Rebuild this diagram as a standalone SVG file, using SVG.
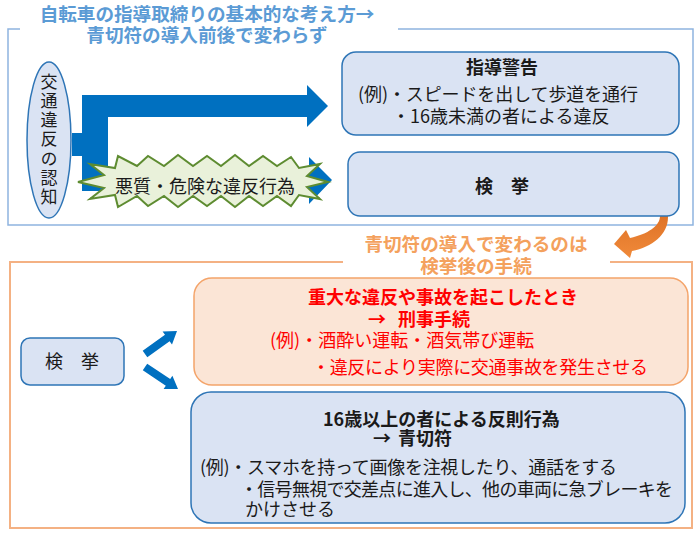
<svg xmlns="http://www.w3.org/2000/svg" width="700" height="535" viewBox="0 0 700 535">
<defs>
<style>
.t{font-family:"Noto Sans CJK JP","Noto Sans",sans-serif;font-size:18px;fill:#1a1a1a}
.b{font-weight:bold}
.blue{fill:#DAE3F3;stroke:#2E75B6;stroke-width:1.5}
.org{fill:#FBE5D6;stroke:#F4A46A;stroke-width:1.5}
.red{fill:#FF0000}
.ttl{font-family:"Noto Sans CJK JP","Noto Sans",sans-serif;font-size:18.6px;font-weight:bold}
</style>
<linearGradient id="og" x1="0" y1="0" x2="0" y2="1">
<stop offset="0" stop-color="#C55A11"/>
<stop offset="0.5" stop-color="#E07428"/>
<stop offset="1" stop-color="#F08A3A"/>
</linearGradient>
</defs>
<rect width="700" height="535" fill="#ffffff"/>

<g id="frame-top" fill="none" stroke="#8FB4E0" stroke-width="1.5">
<polyline points="20,29 8,29 8,225 693,225 693,29 398,29"/>
</g>
<g id="title-top">
<text class="ttl" text-anchor="middle" fill="#5B9BD5"><tspan x="207" y="21">自転車の指導取締りの基本的な考え方→</tspan><tspan x="207" y="42">青切符の導入前後で変わらず</tspan></text>
</g>

<g id="frame-bottom" fill="none" stroke="#F4B183" stroke-width="2">
<polyline points="343,262 10,262 10,528 692,528 692,262 610,262"/>
</g>
<g id="title-bottom">
<text class="ttl" text-anchor="middle" fill="#F4A15D"><tspan x="476" y="251">青切符の導入で変わるのは</tspan><tspan x="476" y="273">検挙後の手続</tspan></text>
</g>

<g id="connectors">
<path d="M72,133 H82 V95 H307 V85 L328,106 L307,127 V117 H108 V169 H309 V157 L332,180 L309,204 V191 H82 V156 H72 Z" fill="#0070C0"/>
<path d="M616,179 C645,180 668,195 668,217 C668,235 652,247 632,251 L630,258 L614,244 L626,230 L630,238 C648,234 660,226 660,216 C660,203 640,193 616,192 Z" fill="url(#og)"/>
<polygon points="142.7,350.8 165.0,334.8 162.6,331.5 177,331 172.0,344.5 169.6,341.2 147.3,357.2" fill="#0070C0"/>
<polygon points="147.2,363.7 170.2,379.1 172.4,375.7 178,389 163.6,389.0 165.8,385.7 142.8,370.3" fill="#0070C0"/>
</g>

<g id="node-ninchi">
<ellipse class="blue" cx="49" cy="140" rx="22" ry="78"/>
<text class="t" x="49" y="140" text-anchor="middle" style="writing-mode:vertical-rl;font-size:17px;letter-spacing:2.2px">交通違反の認知</text>
</g>

<g id="node-akushitsu">
<polygon fill="#E9F1DA" stroke="#5E8C31" stroke-width="2" stroke-linejoin="miter" points="78,182 104,175 90,164 115,168 118,156 137,166 148,156 164,166 178,155 193,166 207,156 221,166 235,155 249,166 263,156 277,166 291,157 299,168 320,164 307,176 328,182 307,187 320,199 299,195 291,206 277,196 263,206 249,196 235,207 221,196 207,206 193,196 178,207 164,196 148,206 137,196 118,207 115,195 90,199 104,188"/>
<text class="t" x="205" y="193" text-anchor="middle">悪質・危険な違反行為</text>
</g>

<g id="node-shidou">
<rect class="blue" x="342" y="52" width="337" height="83" rx="14"/>
<text class="t"><tspan class="b" x="502" y="74" text-anchor="middle">指導警告</tspan><tspan x="358" y="101" textLength="280">(例)・スピードを出して歩道を通行</tspan><tspan x="392" y="123">・16歳未満の者による違反</tspan></text>
</g>

<g id="node-kenkyo-top">
<rect class="blue" x="348" y="152" width="331" height="64" rx="12"/>
<text class="t b" x="502" y="193" text-anchor="middle">検　挙</text>
</g>

<g id="node-kenkyo-bottom">
<rect class="blue" x="21" y="338" width="103" height="47" rx="9"/>
<text class="t" x="72" y="368" text-anchor="middle">検　挙</text>
</g>

<g id="node-keiji">
<rect class="org" x="194" y="278" width="494" height="107" rx="18"/>
<text class="t red"><tspan class="b" x="443" y="304" text-anchor="middle">重大な違反や事故を起こしたとき</tspan><tspan class="b" x="368" y="326">→</tspan><tspan class="b" x="398" y="326">刑事手続</tspan><tspan x="270" y="347">(例)・酒酔い運転・酒気帯び運転</tspan><tspan x="312" y="374" textLength="336">・違反により実際に交通事故を発生させる</tspan></text>
</g>

<g id="node-aokippu">
<rect class="blue" x="191" y="392" width="494" height="131" rx="20"/>
<text class="t"><tspan class="b" x="323" y="426">16歳以上の者による反則行為</tspan><tspan class="b" x="373" y="445">→</tspan><tspan class="b" x="398" y="445">青切符</tspan><tspan x="200" y="474" textLength="417">(例)・スマホを持って画像を注視したり、通話をする</tspan><tspan x="240" y="496" textLength="433">・信号無視で交差点に進入し、他の車両に急ブレーキを</tspan><tspan x="245" y="516">かけさせる</tspan></text>
</g>
</svg>
